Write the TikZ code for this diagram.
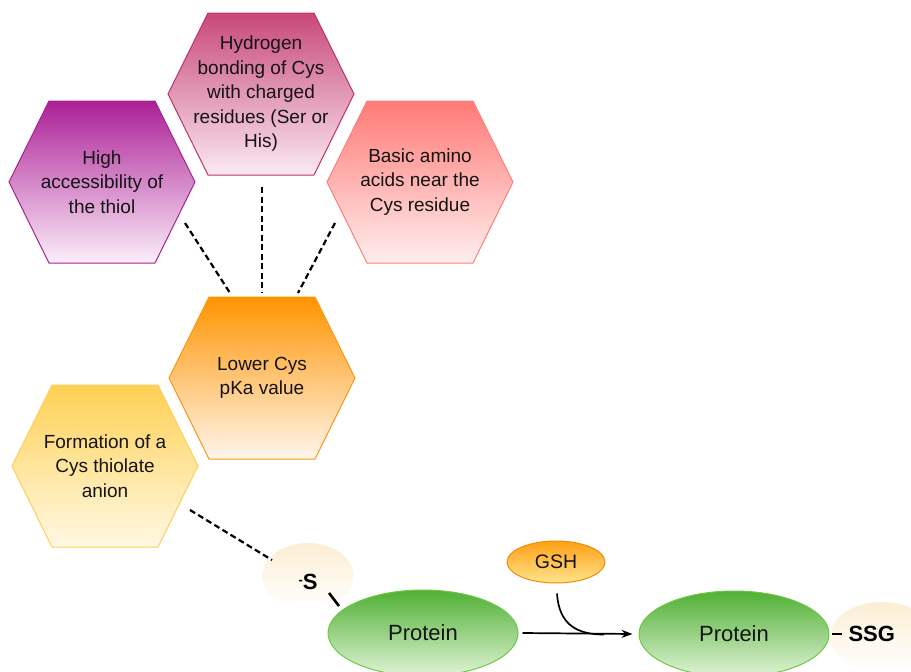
\documentclass[tikz,border=0pt]{standalone}
\usepackage{fontspec}
\setmainfont{Liberation Sans}
\usetikzlibrary{calc,shapes.geometric,arrows.meta,backgrounds}
\definecolor{c1top}{RGB}{200,72,122}\definecolor{c1bot}{RGB}{251,234,242}\definecolor{c1dr}{RGB}{190,50,105}
\definecolor{c2top}{RGB}{172,32,150}\definecolor{c2bot}{RGB}{252,238,250}\definecolor{c2dr}{RGB}{165,35,145}
\definecolor{c3top}{RGB}{255,122,118}\definecolor{c3bot}{RGB}{255,238,238}\definecolor{c3dr}{RGB}{250,130,125}
\definecolor{c4top}{RGB}{255,148,0}\definecolor{c4bot}{RGB}{255,246,236}\definecolor{c4dr}{RGB}{250,150,20}
\definecolor{c5top}{RGB}{255,208,84}\definecolor{c5bot}{RGB}{255,249,228}\definecolor{c5dr}{RGB}{255,205,90}
\definecolor{gtop}{RGB}{80,176,52}\definecolor{gbot}{RGB}{225,243,215}\definecolor{gdr}{RGB}{110,200,70}
\definecolor{otop}{RGB}{255,160,20}\definecolor{obot}{RGB}{255,228,140}\definecolor{odr}{RGB}{240,140,10}
\definecolor{cream}{RGB}{252,238,212}
\definecolor{txt}{RGB}{20,20,20}
\newcommand\hexshade[4]{%
  \begin{pgfonlayer}{background}
  \shade[top color=#2,bottom color=#3,draw=#4,line width=1pt]
    ($(#1)+(-93,0)$) -- ($(#1)+(-53,-81)$) -- ($(#1)+(53,-81)$) -- ($(#1)+(93,0)$)
    -- ($(#1)+(53,81)$) -- ($(#1)+(-53,81)$) -- cycle;
  \end{pgfonlayer}}
\begin{document}
\begin{tikzpicture}[x=1pt,y=-1pt,
  hextext/.style={text=txt,align=center,font=\fontsize{19}{24.5}\selectfont},
  dashline/.style={line width=2.2pt,dash pattern=on 6pt off 3.5pt},
  protein/.style={ellipse,minimum width=190pt,minimum height=86pt,top color=gtop,bottom color=gbot,draw=gdr,line width=1pt,font=\fontsize{22}{22}\selectfont,text=txt},
  glow/.style={ellipse,top color=cream,bottom color=white,draw=none}]
\useasboundingbox (0,0) rectangle (911,672);
% hexagons
\node[hextext] (h1) at (261,94) {Hydrogen\\bonding of Cys\\with charged\\residues (Ser or\\His)};
\hexshade{h1}{c1top}{c1bot}{c1dr}
\node[hextext] (h2) at (102,182) {High\\accessibility of\\the thiol};
\hexshade{h2}{c2top}{c2bot}{c2dr}
\node[hextext] (h3) at (420,182) {Basic amino\\acids near the\\Cys residue};
\hexshade{h3}{c3top}{c3bot}{c3dr}
\node[hextext] (h4) at (262,378) {Lower Cys\\pKa value};
\hexshade{h4}{c4top}{c4bot}{c4dr}
\node[hextext] (h5) at (105,466) {Formation of a\\Cys thiolate\\anion};
\hexshade{h5}{c5top}{c5bot}{c5dr}
% glows and ellipses
\node[glow,minimum width=91pt,minimum height=66pt] (sbg) at (308,576) {};
\node[glow,minimum width=104pt,minimum height=70pt] (ssgbg) at (882,637) {};
\node[font=\bfseries\fontsize{22}{22}\selectfont] (s) at (308,582) {\raisebox{5pt}{\fontsize{13}{13}\selectfont-}S};
\node[protein] (p1) at (423,633) {Protein};
\node[protein] (p2) at (734,634) {Protein};
\node[ellipse,minimum width=98pt,minimum height=42pt,top color=otop,bottom color=obot,draw=odr,line width=1pt,font=\fontsize{19.5}{19.5}\selectfont,text=txt] (gsh) at (556,562) {GSH};
\node[font=\bfseries\fontsize{22}{22}\selectfont,anchor=west] (ssg) at (845,634) {SSG};
% dashed connectors
\draw[dashline] ($(h2)+(83,41)$) -- ($(h4)+(-32,-85)$);
\draw[dashline] ($(h1)+(1,93)$) -- ($(h4)+(0,-85)$);
\draw[dashline] ($(h3)+(-85,41)$) -- ($(h4)+(36,-85)$);
\draw[dashline] ($(h5)+(85,44)$) -- ($(sbg)+(-36,-16)$);
% bonds
\draw[line width=2.6pt] ($(s)+(21,11)$) -- ($(s)+(31,24)$);
\draw[line width=2.6pt] ($(ssg.west)+(-13,0)$) -- ($(ssg.west)+(-3,0)$);
% reaction arrow
\draw[line width=1.7pt,-{Stealth[length=11pt,width=8pt]}] ($(p1.east)+(4,0)$) -- ($(p2.west)+(-6,0)$);
\draw[line width=1.7pt] ($(gsh.south)+(1,10)$) .. controls ($(gsh.south)+(3,42)$) and ($(gsh.south)+(22,51)$) .. ($(gsh.south)+(48,51)$);
\end{tikzpicture}
\end{document}
